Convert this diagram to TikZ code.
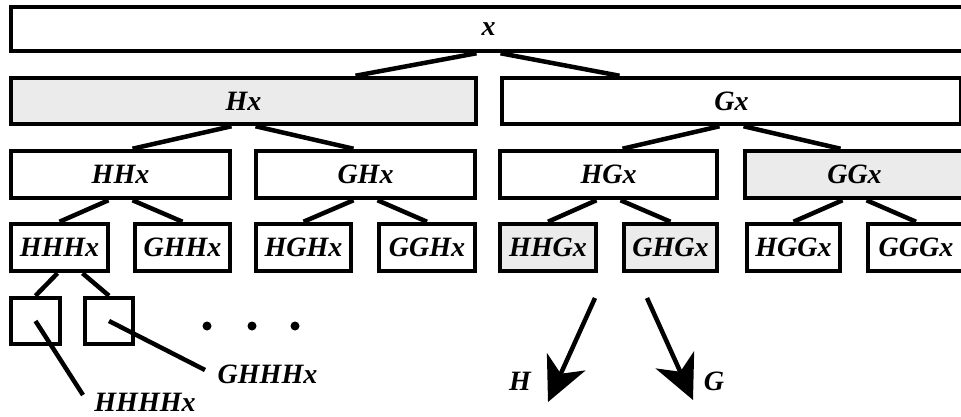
\documentclass[tikz,border=0pt]{standalone}
\usepackage{fontspec}
\newfontfamily\lblfam{Liberation Serif}
\usetikzlibrary{arrows.meta}
\definecolor{boxgray}{RGB}{235,235,235}
\tikzset{
  bx/.style={draw, line width=4.5pt, inner sep=0pt, fill=white,
    font=\lblfam\bfseries\itshape\fontsize{28}{32}\selectfont},
  gbx/.style={bx, fill=boxgray},
  lbl/.style={inner sep=0pt, font=\lblfam\bfseries\itshape\fontsize{28}{32}\selectfont},
  conn/.style={line width=4.5pt},
  bigarrow/.style={line width=4.5pt, -{Stealth[length=44pt,width=42pt,inset=13pt]}},
  dotnode/.style={circle, fill=black, inner sep=0pt, minimum size=9pt}
}
\begin{document}
\begin{tikzpicture}[x=1pt,y=-1pt]
\useasboundingbox (0,0) rectangle (961,417);
\clip (0,0) rectangle (961,417);
% row 1
\node[bx, minimum width=955pt, minimum height=44pt] (x) at (488.5,29) {x};
% row 2
\node[gbx, minimum width=465pt, minimum height=46pt] (Hx) at (243.5,101) {Hx};
\node[bx, minimum width=459pt, minimum height=46pt] (Gx) at (731.5,101) {Gx};
% row 3
\node[bx, minimum width=219pt, minimum height=47pt] (HHx) at (120.5,174.5) {HHx};
\node[bx, minimum width=219pt, minimum height=47pt] (GHx) at (365.5,174.5) {GHx};
\node[bx, minimum width=217pt, minimum height=47pt] (HGx) at (608.5,174.5) {HGx};
\node[gbx, minimum width=219pt, minimum height=47pt] (GGx) at (854.5,174.5) {GGx};
% row 4
\node[bx, minimum width=97pt, minimum height=47pt] (HHHx) at (59.5,247.5) {HHHx};
\node[bx, minimum width=95pt, minimum height=47pt] (GHHx) at (182.5,247.5) {GHHx};
\node[bx, minimum width=95pt, minimum height=47pt] (HGHx) at (303.5,247.5) {HGHx};
\node[bx, minimum width=96pt, minimum height=47pt] (GGHx) at (427,247.5) {GGHx};
\node[gbx, minimum width=96pt, minimum height=47pt] (HHGx) at (548,247.5) {HHGx};
\node[gbx, minimum width=93pt, minimum height=47pt] (GHGx) at (670.5,247.5) {GHGx};
\node[bx, minimum width=93pt, minimum height=47pt] (HGGx) at (793.5,247.5) {HGGx};
\node[bx, minimum width=96pt, minimum height=47pt] (GGGx) at (916,247.5) {GGGx};
% row 5
\node[bx, minimum width=49pt, minimum height=46pt] (b1) at (35.5,321) {};
\node[bx, minimum width=48pt, minimum height=46pt] (b2) at (109,321) {};
% connectors
\draw[conn] ([xshift=-12pt]x.south) -- ([xshift=112pt]Hx.north);
\draw[conn] ([xshift=12pt]x.south) -- ([xshift=-112pt]Gx.north);
\draw[conn] ([xshift=-12pt]Hx.south) -- ([xshift=12pt]HHx.north);
\draw[conn] ([xshift=12pt]Hx.south) -- ([xshift=-12pt]GHx.north);
\draw[conn] ([xshift=-12pt]Gx.south) -- ([xshift=14pt]HGx.north);
\draw[conn] ([xshift=12pt]Gx.south) -- ([xshift=-14pt]GGx.north);
\draw[conn] ([xshift=-12pt]HHx.south) -- (HHHx.north);
\draw[conn] ([xshift=12pt]HHx.south) -- (GHHx.north);
\draw[conn] ([xshift=-12pt]GHx.south) -- (HGHx.north);
\draw[conn] ([xshift=12pt]GHx.south) -- (GGHx.north);
\draw[conn] ([xshift=-12pt]HGx.south) -- (HHGx.north);
\draw[conn] ([xshift=12pt]HGx.south) -- (GHGx.north);
\draw[conn] ([xshift=-12pt]GGx.south) -- (HGGx.north);
\draw[conn] ([xshift=12pt]GGx.south) -- (GGGx.north);
\draw[conn] ([xshift=-2pt]HHHx.south) -- (b1.north);
\draw[conn] ([xshift=23pt]HHHx.south) -- (b2.north);
% labels of small boxes
\coordinate (e1) at (83,395);
\coordinate (e2) at (205,370);
\draw[conn] (b1.center) -- (e1);
\draw[conn] (b2.center) -- (e2);
\node[lbl] (L1) at (145,402) {HHHHx};
\node[lbl] (L2) at (267.5,374) {GHHHx};
% dots
\node[dotnode] (d1) at (207,326) {};
\node[dotnode] (d2) at (252,326) {};
\node[dotnode] (d3) at (295,326) {};
% arrows
\coordinate (a1s) at (595,298);
\coordinate (a1e) at (548,402);
\coordinate (a2s) at (647,298);
\coordinate (a2e) at (693,400);
\draw[bigarrow] (a1s) -- (a1e);
\draw[bigarrow] (a2s) -- (a2e);
\node[lbl] (lH) at (520,381) {H};
\node[lbl] (lG) at (714,381) {G};
\end{tikzpicture}
\end{document}
